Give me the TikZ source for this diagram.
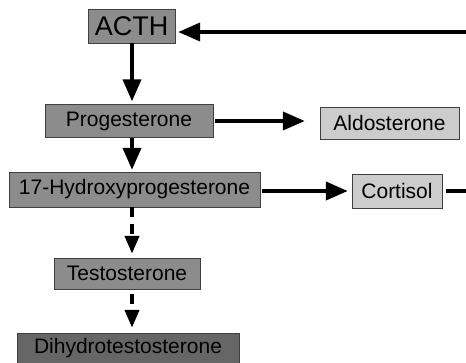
\documentclass[tikz,border=0pt]{standalone}
\usepackage{fontspec}
\setmainfont{Liberation Sans}
\usetikzlibrary{arrows.meta}

\begin{document}
\begin{tikzpicture}[x=1pt,y=-1pt,
  box/.style={draw=black!75,inner sep=0pt,font=\fontsize{21}{24}\selectfont},
  arr/.style={line width=4pt,-{Triangle[length=22pt,width=18pt]}},
  darr/.style={line width=4pt,dash pattern=on 10pt off 7pt,-{Triangle[length=18pt,width=14pt]}}]

\useasboundingbox (0,0) rectangle (466,362);

\coordinate (R1) at (466,32);
\coordinate (R2) at (466,191);

\node[box,fill=black!45,minimum width=87,minimum height=34,font=\fontsize{27}{30}\selectfont] (ACTH) at (131.5,26) {ACTH};
\node[box,fill=black!45,minimum width=168,minimum height=33] (Prog) at (129,121) {Progesterone};
\node[box,fill=black!20,minimum width=139,minimum height=32] (Aldo) at (389.5,123) {Aldosterone};
\node[box,fill=black!45,minimum width=251,minimum height=35] (OHP) at (134.5,189.5) {17-Hydroxyprogesterone};
\node[box,fill=black!20,minimum width=90,minimum height=34] (Cort) at (397,191) {Cortisol};
\node[box,fill=black!45,minimum width=146,minimum height=31] (Test) at (127,273.5) {Testosterone};
\node[box,fill=black!60,minimum width=222,minimum height=30] (DHT) at (128,348) {Dihydrotestosterone};

\draw[arr,shorten >=3pt] (R1) -- (ACTH.east |- R1);
\draw[arr,shorten >=3pt] (ACTH.south -| 132,0) -- (Prog.north -| 132,0);
\draw[arr,shorten <=2pt,shorten >=15pt] (Prog.east) -- (Aldo.west |- Prog.east);
\draw[arr,shorten >=2pt] (Prog.south -| 132,0) -- (OHP.north -| 132,0);
\draw[arr,shorten <=2pt,shorten >=4pt] (OHP.east |- R2) -- (Cort.west |- R2);
\draw[line width=4pt,shorten <=4pt] (Cort.east |- R2) -- (R2);
\draw[darr,shorten >=4pt] (OHP.south -| 132,0) -- (Test.north -| 132,0);
\draw[darr,shorten <=5pt,shorten >=5pt] (Test.south -| 132,0) -- (DHT.north -| 132,0);

\end{tikzpicture}
\end{document}
